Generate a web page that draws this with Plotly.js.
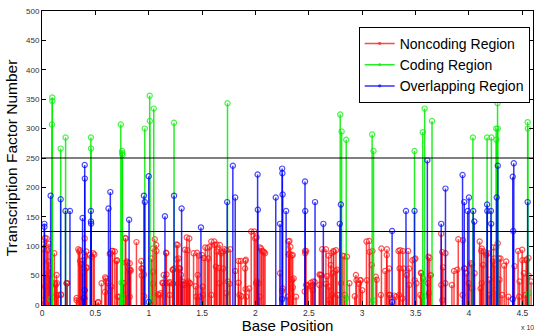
<!DOCTYPE html>
<html>
<head>
<meta charset="utf-8">
<script src="https://cdn.plot.ly/plotly-3.0.1.min.js"></script>
<style>html,body{margin:0;padding:0;background:#fff;}#chart{width:534px;height:334px;}</style>
</head>
<body>
<div id="chart"></div>
<script>
// Base positions in units of 10^5
const noncodingX = [0.012,0.014,0.028,0.035,0.065,0.075,0.115,0.137,0.14,0.178,0.236,0.324,0.34,0.355,0.356,0.37,0.38,0.40,0.415,0.417,0.449,0.49,0.526,0.558,0.59,0.592,0.60,0.635,0.657,0.698,0.71,0.766,0.78,0.782,0.80,0.816,0.83,0.885,0.93,0.932,0.934,0.955,0.957,1.025,1.04,1.056,1.07,1.072,1.087,1.11,1.128,1.165,1.167,1.196,1.227,1.26,1.262,
1.28,1.30,1.32,1.34,1.356,1.37,1.42,1.44,1.47,1.518,1.53,1.57,1.586,1.636,1.64,1.66,1.68,1.70,1.71,1.74,1.81,1.84,1.87,1.905,1.907,1.96,2.01,2.012,2.04,2.06,2.08,2.09,2.23,2.25,
2.31,2.32,2.34,2.345,2.35,2.464,2.466,2.49,2.52,2.54,2.6,2.625,2.67,2.685,2.71,2.73,2.75,2.815,2.83,2.93,2.947,2.985,3.04,3.07,3.09,3.136,3.18,3.215,3.23,3.26,3.30,3.34,3.35,3.38,3.43,3.47,
3.49,3.55,3.62,3.64,3.74,3.75,3.78,3.86,3.9,3.955,4.02,4.1,4.12,4.14,4.16,4.23,4.235,4.27,4.28,4.33,4.46,4.5,4.54,4.56,
0.012,0.028,0.137,0.178,0.23,0.324,0.355,0.40,0.526,0.651,0.76,0.79,0.822,1.04,1.134,1.165,1.196,1.227,1.274,1.352,1.383,1.446,1.508,1.586,1.664,1.726,1.757,1.85,1.913,2.006,2.037,2.255,2.302,2.38,2.474,2.536,2.598,2.66,2.69,2.72,2.77,2.8,2.88,2.97,3.0,3.25,3.315,3.377,3.44,3.56,3.626,3.75,3.84,3.94,4.03,4.12,4.19,4.25,4.31,4.37,4.47,4.53,
0.044,0.05,0.059,0.068,0.121,0.128,0.153,0.231,0.349,0.364,0.386,0.402,0.418,0.464,0.48,0.598,0.62,0.642,0.66,0.682,0.704,0.729,0.785,0.798,0.807,0.822,0.829,0.941,1.04,1.103,1.14,
1.162,1.193,1.224,1.24,1.271,1.28,1.293,1.302,1.318,1.333,1.364,1.38,1.386,1.452,1.458,1.474,1.498,1.505,1.551,1.558,1.614,1.62,1.629,1.667,1.676,1.698,1.729,1.763,1.841,1.863,1.903,1.909,1.941,1.988,1.997,2.028,2.053,2.072,
2.311,2.318,2.327,2.349,2.358,2.461,2.474,2.489,2.523,2.536,2.554,2.607,2.617,2.66,2.692,2.707,2.723,2.732,2.754,2.763,2.835,2.857,2.941,2.981,3.044,3.065,3.096,3.128,3.175,3.231,3.252,3.346,3.355,3.386,3.417,3.439,
3.492,3.498,3.508,3.545,3.554,3.57,3.617,3.632,3.642,3.741,3.757,3.779,3.891,3.944,3.96,3.975,3.997,4.028,4.053,4.109,4.115,4.131,4.162,4.178,4.193,4.224,4.24,4.255,4.287,4.296,4.349,4.427,4.474,4.498,4.514,4.536,4.558,4.582];
const noncodingY = [103,95,114,52,104,62,88,51,37,18,37,12,95,93,75,70,55,113,91,64,85,86,5,37,22,47,40,87,92,75,14,37,114,72,72,60,58,107,75,62,50,52,15,79,56,112,102,92,18,20,38,88,52,39,60,103,78,
62,40,35,94,115,40,88,32,84,80,98,99,108,103,91,63,88,91,95,40,58,75,15,75,27,125,115,40,98,92,90,88,54,24,
108,88,84,43,30,92,88,32,38,40,52,95,49,84,88,92,58,84,83,15,42,42,108,90,68,43,96,58,85,17,16,92,62,92,92,76,
78,55,82,50,121,90,88,58,112,62,71,108,96,91,88,98,79,105,79,67,92,76,76,50,
8,31,17,17,37,8,8,11,4,31,37,17,14,36,37,38,17,36,36,37,37,14,17,17,37,20,36,17,14,37,14,28,14,14,34,25,34,36,8,17,17,37,37,36,25,17,14,11,34,14,20,8,34,17,28,37,17,25,17,14,14,17,
113,93,74,51,37,34,17,37,91,69,76,82,63,82,88,45,37,88,92,91,76,14,113,74,57,71,60,62,96,17,51,
89,37,60,62,102,79,62,51,40,34,93,113,37,89,51,14,85,31,97,79,108,102,65,102,91,62,93,95,38,75,62,77,28,125,113,37,96,91,86,
109,99,85,45,23,92,34,31,34,39,51,51,95,31,68,54,90,93,60,17,82,51,42,42,109,92,48,17,95,62,17,93,62,51,62,42,
79,37,17,54,45,37,80,51,34,64,37,60,110,62,54,37,69,54,28,92,68,85,88,43,74,68,98,43,79,74,66,40,94,54,77,80,40,17];

const codingX = [0.096,0.097,0.094,0.175,0.221,0.458,0.459,0.738,0.75,0.752,0.754,0.963,1.009,1.01,1.047,1.237,1.738,2.794,2.807,2.85,3.093,3.106,3.49,3.567,3.585,3.654,4.037,4.17,4.21,4.255,4.257,4.268,4.27,4.55,4.552,
0.08,0.745,0.748,0.75,1.02,2.85,3.1,3.58,4.56];
const codingY = [353,347,307,266,285,285,266,307,262,258,255,300,356,313,334,310,343,324,295,281,290,262,262,294,334,313,285,285,285,300,281,343,300,311,300,
10,38,15,6,10,12,8,15,20];

const overlapX = [0.022,0.023,0.081,0.175,0.22,0.262,0.38,0.40,0.401,0.458,0.459,0.46,0.623,0.64,0.816,0.955,0.963,1.0,1.152,1.237,1.308,1.489,1.735,1.788,1.81,2.02,2.022,2.19,2.23,2.25,2.252,2.254,2.287,2.464,2.466,2.558,2.636,2.79,2.80,3.28,3.41,3.49,3.61,3.74,3.78,3.94,3.956,3.988,4.0,4.04,4.05,4.17,4.172,4.206,4.208,4.26,4.27,4.41,4.42,4.415,4.55,
0.40,0.39,1.0,2.25,3.28,4.41];
const overlapY = [138,133,186,180,160,160,148,238,215,160,142,138,164,192,145,186,175,219,151,186,164,132,175,237,183,222,162,183,138,232,224,188,160,210,160,175,138,138,171,126,160,160,246,138,198,221,175,160,183,160,142,171,160,160,138,183,237,218,241,126,175,
25,12,5,10,5,10];

const seriesNames = ['Noncoding Region','Coding Region','Overlapping Region'];
const xTickVals = [0,0.5,1,1.5,2,2.5,3,3.5,4,4.5];
const xTickText = ['0','0.5','1','1.5','2','2.5','3','3.5','4','4.5'];
const thresholds = [250,125];

function stem(xs, ys, color, markerColor, name) {
  const x = [], y = [], s = [];
  xs.forEach((v, i) => { x.push(v, v, null); y.push(0, ys[i], null); s.push(0, 5.2, 0); });
  return {
    type: 'scatter', mode: 'lines+markers', name: name, x: x, y: y,
    connectgaps: false, cliponaxis: true,
    line: {color: color, width: 1.5},
    marker: {symbol: 'circle-open', size: s, color: markerColor, line: {width: 1.2}}
  };
}

const traces = [
  stem(noncodingX, noncodingY, 'rgba(255,0,0,0.72)', '#ff1010', seriesNames[0]),
  stem(codingX, codingY, 'rgba(0,235,0,0.85)', '#00ee00', seriesNames[1]),
  stem(overlapX, overlapY, 'rgba(0,0,255,0.8)', '#0000ff', seriesNames[2])
];

const layout = {
  width: 534, height: 334,
  margin: {l: 42, r: 1, t: 11, b: 29},
  paper_bgcolor: '#fff', plot_bgcolor: '#fff',
  font: {family: 'Liberation Sans, Arial, sans-serif', color: '#000'},
  showlegend: true,
  legend: {
    x: 0.645, y: 0.946, xanchor: 'left', yanchor: 'top',
    bgcolor: '#fff', bordercolor: '#000', borderwidth: 1,
    font: {size: 14, color: '#000'}, itemwidth: 30, tracegroupgap: 0
  },
  xaxis: {
    range: [0, 4.6], tickvals: xTickVals, ticktext: xTickText,
    ticks: 'inside', ticklen: 4, tickcolor: '#000',
    showline: true, linecolor: '#000', linewidth: 1, mirror: 'ticks',
    showgrid: false, zeroline: false,
    tickfont: {size: 8.5, color: '#333'},
    title: {text: 'Base Position', font: {size: 15, color: '#000'}, standoff: 2}
  },
  yaxis: {
    range: [0, 500], dtick: 50,
    ticks: 'inside', ticklen: 4, tickcolor: '#000',
    showline: true, linecolor: '#000', linewidth: 1, mirror: 'ticks',
    showgrid: false, zeroline: false,
    tickfont: {size: 8, color: '#333'},
    title: {text: 'Transcription Factor Number', font: {size: 15.5, color: '#000'}, standoff: 4}
  },
  shapes: thresholds.map(v => ({
    type: 'line', xref: 'paper', x0: 0, x1: 1, yref: 'y', y0: v, y1: v,
    line: {color: '#000', width: 1.2}, layer: 'above'
  })),
  annotations: [{
    xref: 'paper', yref: 'paper', x: 0.972, y: -0.055, xanchor: 'left', yanchor: 'top',
    text: 'x 10<sup>5</sup>', showarrow: false, font: {size: 7, color: '#333'}
  }]
};

Plotly.newPlot('chart', traces, layout, {staticPlot: true, displayModeBar: false});
</script>
</body>
</html>
